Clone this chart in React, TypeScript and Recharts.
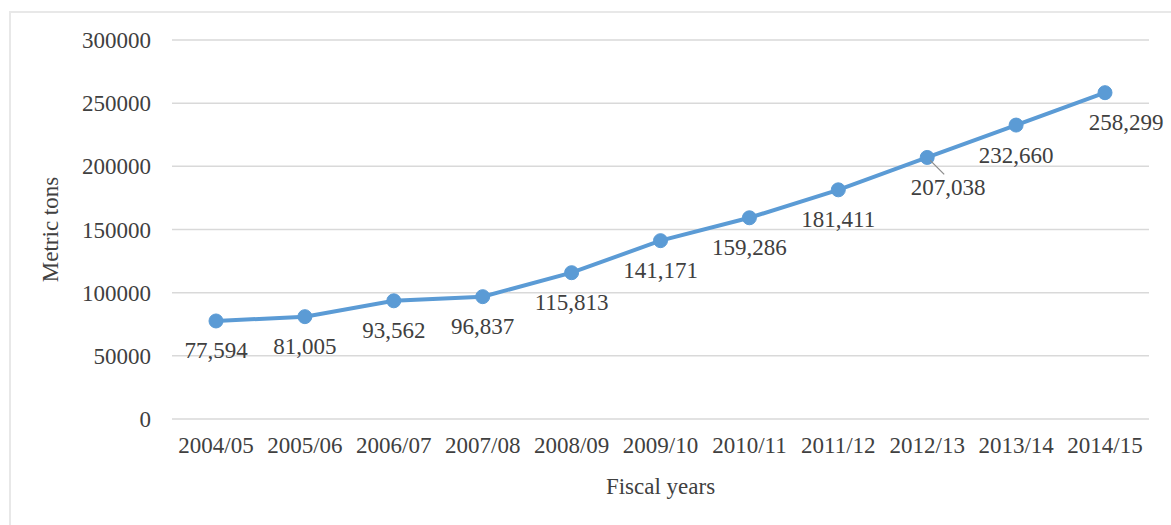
import { LineChart, Line, XAxis, YAxis, CartesianGrid, LabelList, Label } from 'recharts';

const fiscalYears = ['2004/05', '2005/06', '2006/07', '2007/08', '2008/09', '2009/10', '2010/11', '2011/12', '2012/13', '2013/14', '2014/15'];
const metricTons = [77594, 81005, 93562, 96837, 115813, 141171, 159286, 181411, 207038, 232660, 258299];
const yTicks = [0, 50000, 100000, 150000, 200000, 250000, 300000];

const data = fiscalYears.map((year, i) => ({ year, tons: metricTons[i] }));

const FONT = '"Liberation Serif", "Times New Roman", serif';
const TEXT = '#404040';
const BLUE = '#5B9BD5';

// a couple of labels were nudged right in the original, one with a leader line
const shiftedLabels: Record<string, boolean> = { '2012/13': true, '2014/15': true };

const PointLabel = (props: any) => {
  const { x, y, value, index } = props;
  const year = fiscalYears[index];
  const dx = shiftedLabels[year] ? 21 : 0;
  return (
    <g>
      {year === '2012/13' && (
        <line x1={x + 3} y1={y + 3} x2={x + 17} y2={y + 17} stroke="#8c8c8c" strokeWidth={1.2} />
      )}
      <text
        x={x + dx}
        y={y + 30}
        textAnchor="middle"
        dominantBaseline="central"
        fill={TEXT}
        fontFamily={FONT}
        fontSize={23}
      >
        {Number(value).toLocaleString('en-US')}
      </text>
    </g>
  );
};

export default function App() {
  return (
    <div style={{ position: 'absolute', left: 0, top: 0, width: 1171, height: 525, background: '#fff' }}>
      <div
        style={{
          position: 'absolute',
          left: 9,
          top: 11,
          width: 1180,
          height: 530,
          borderLeft: '2px solid #e8e8e8',
          borderTop: '2px solid #e8e8e8',
        }}
      />
      <LineChart
        width={1171}
        height={525}
        data={data}
        margin={{ top: 40, right: 22, bottom: 26, left: 0 }}
        style={{ position: 'absolute', left: 0, top: 0 }}
      >
        <CartesianGrid vertical={false} stroke="#d9d9d9" strokeWidth={1.5} />
        <XAxis
          dataKey="year"
          interval={0}
          height={80}
          padding={{ left: 44, right: 44 }}
          axisLine={false}
          tickLine={false}
          tickSize={0}
          tickMargin={18}
          tick={{ fill: TEXT, fontFamily: FONT, fontSize: 23 }}
        >
          <Label
            value="Fiscal years"
            position="insideBottom"
            offset={5}
            fill={TEXT}
            fontFamily={FONT}
            fontSize={23}
          />
        </XAxis>
        <YAxis
          width={172}
          domain={[0, 300000]}
          ticks={yTicks}
          interval={0}
          axisLine={false}
          tickLine={false}
          tickSize={0}
          tickMargin={21}
          tick={{ fill: TEXT, fontFamily: FONT, fontSize: 23 }}
        >
          <Label
            content={(p: any) => {
              const vb = p.viewBox;
              const cx = vb.x + 50;
              const cy = vb.y + vb.height / 2;
              return (
                <text
                  x={cx}
                  y={cy}
                  transform={`rotate(-90, ${cx}, ${cy})`}
                  textAnchor="middle"
                  dominantBaseline="central"
                  fill={TEXT}
                  fontFamily={FONT}
                  fontSize={23}
                >
                  Metric tons
                </text>
              );
            }}
          />
        </YAxis>
        <Line
          type="linear"
          dataKey="tons"
          stroke={BLUE}
          strokeWidth={4}
          dot={{ r: 7, fill: BLUE, stroke: BLUE, strokeWidth: 1 }}
          isAnimationActive={false}
        >
          <LabelList dataKey="tons" content={<PointLabel />} />
        </Line>
      </LineChart>
    </div>
  );
}
